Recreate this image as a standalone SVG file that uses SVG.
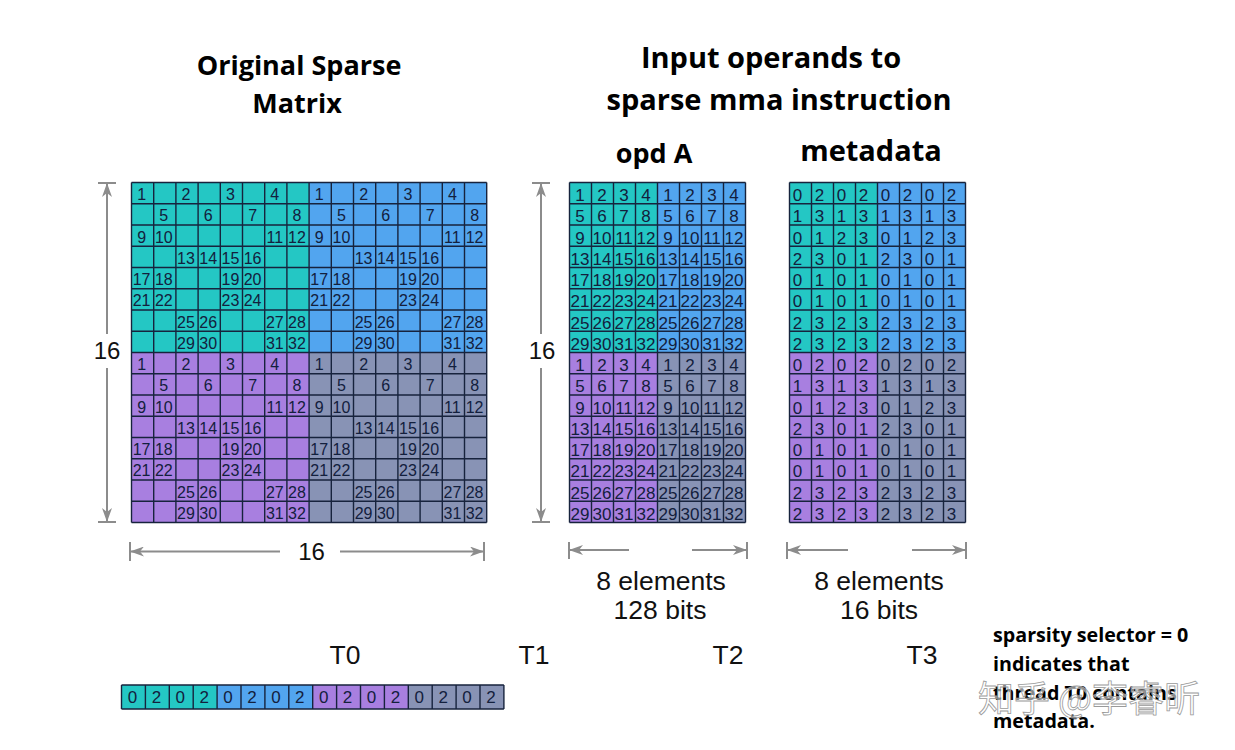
<svg xmlns="http://www.w3.org/2000/svg" width="1235" height="750" viewBox="0 0 1235 750">
<style>
.bg{fill:#ffffff}
.teal{fill:#24c7c4}.blue{fill:#52a5ef}.purp{fill:#a87fe0}.slate{fill:#8893b5}
.g{stroke:#17233d;stroke-width:1.4;fill:none}
.n{font-family:"Liberation Sans",Arial,sans-serif;font-size:16px;fill:#13203d;text-anchor:middle}
.a{font-size:17px}
.dim{stroke:#8c8c8c;stroke-width:2;fill:none}
.tt{font-family:"Open Sans",sans-serif;font-weight:700;font-size:27px;text-anchor:middle;fill:#000}
.t2{font-size:29px}
.lb{font-family:"Liberation Sans",Arial,sans-serif;font-size:26.5px;fill:#111;text-anchor:middle}
.sz{font-size:24px}
.note{font-family:"Open Sans",sans-serif;font-weight:700;font-size:19.7px;fill:#000}
.wm{font-family:"Noto Sans CJK SC",sans-serif;font-size:36px;fill:#ffffff;fill-opacity:0.55;stroke:#9a9a9a;stroke-width:0.8}
</style>
<defs>
<marker id="ah" viewBox="0 0 14 10" refX="13" refY="5" markerWidth="14" markerHeight="10" markerUnits="userSpaceOnUse" orient="auto">
<path d="M0,0 L14,5 L0,10 L4,5 z" fill="#8c8c8c"/>
</marker>
</defs>
<rect class="bg" x="0" y="0" width="1235" height="750"/>

<g id="titles">
<text class="tt" x="299" y="75">Original Sparse</text>
<text class="tt" x="297" y="113">Matrix</text>
<text class="tt t2" x="771" y="68">Input operands to</text>
<text class="tt t2" x="779" y="110">sparse mma instruction</text>
<text class="tt" x="654" y="163">opd A</text>
<text class="tt t2" x="871" y="161">metadata</text>
</g>

<g id="original-matrix">
<rect class="teal" x="131.5" y="182.5" width="177.6" height="170"/>
<rect class="blue" x="309.1" y="182.5" width="177.6" height="170"/>
<rect class="purp" x="131.5" y="352.5" width="177.6" height="170"/>
<rect class="slate" x="309.1" y="352.5" width="177.6" height="170"/>
<path class="g" d="M131.5 182.5V522.5M153.7 182.5V522.5M175.9 182.5V522.5M198.1 182.5V522.5M220.3 182.5V522.5M242.5 182.5V522.5M264.7 182.5V522.5M286.9 182.5V522.5M309.1 182.5V522.5M331.3 182.5V522.5M353.5 182.5V522.5M375.7 182.5V522.5M397.9 182.5V522.5M420.1 182.5V522.5M442.3 182.5V522.5M464.5 182.5V522.5M486.7 182.5V522.5M131.5 182.5H486.7M131.5 203.75H486.7M131.5 225H486.7M131.5 246.25H486.7M131.5 267.5H486.7M131.5 288.75H486.7M131.5 310H486.7M131.5 331.25H486.7M131.5 352.5H486.7M131.5 373.75H486.7M131.5 395H486.7M131.5 416.25H486.7M131.5 437.5H486.7M131.5 458.75H486.7M131.5 480H486.7M131.5 501.25H486.7M131.5 522.5H486.7"/>
<g class="n">
<g>
<text x="141.6" y="200">1</text><text x="186" y="200">2</text><text x="230.4" y="200">3</text><text x="274.8" y="200">4</text>
<text x="163.8" y="221.25">5</text><text x="208.2" y="221.25">6</text><text x="252.6" y="221.25">7</text><text x="297" y="221.25">8</text>
<text x="141.6" y="242.5">9</text><text x="163.8" y="242.5">10</text><text x="274.8" y="242.5">11</text><text x="297" y="242.5">12</text>
<text x="186" y="263.75">13</text><text x="208.2" y="263.75">14</text><text x="230.4" y="263.75">15</text><text x="252.6" y="263.75">16</text>
<text x="141.6" y="285">17</text><text x="163.8" y="285">18</text><text x="230.4" y="285">19</text><text x="252.6" y="285">20</text>
<text x="141.6" y="306.25">21</text><text x="163.8" y="306.25">22</text><text x="230.4" y="306.25">23</text><text x="252.6" y="306.25">24</text>
<text x="186" y="327.5">25</text><text x="208.2" y="327.5">26</text><text x="274.8" y="327.5">27</text><text x="297" y="327.5">28</text>
<text x="186" y="348.75">29</text><text x="208.2" y="348.75">30</text><text x="274.8" y="348.75">31</text><text x="297" y="348.75">32</text>
</g>
<g transform="translate(177.6,0)">
<text x="141.6" y="200">1</text><text x="186" y="200">2</text><text x="230.4" y="200">3</text><text x="274.8" y="200">4</text>
<text x="163.8" y="221.25">5</text><text x="208.2" y="221.25">6</text><text x="252.6" y="221.25">7</text><text x="297" y="221.25">8</text>
<text x="141.6" y="242.5">9</text><text x="163.8" y="242.5">10</text><text x="274.8" y="242.5">11</text><text x="297" y="242.5">12</text>
<text x="186" y="263.75">13</text><text x="208.2" y="263.75">14</text><text x="230.4" y="263.75">15</text><text x="252.6" y="263.75">16</text>
<text x="141.6" y="285">17</text><text x="163.8" y="285">18</text><text x="230.4" y="285">19</text><text x="252.6" y="285">20</text>
<text x="141.6" y="306.25">21</text><text x="163.8" y="306.25">22</text><text x="230.4" y="306.25">23</text><text x="252.6" y="306.25">24</text>
<text x="186" y="327.5">25</text><text x="208.2" y="327.5">26</text><text x="274.8" y="327.5">27</text><text x="297" y="327.5">28</text>
<text x="186" y="348.75">29</text><text x="208.2" y="348.75">30</text><text x="274.8" y="348.75">31</text><text x="297" y="348.75">32</text>
</g>
<g transform="translate(0,170)">
<text x="141.6" y="200">1</text><text x="186" y="200">2</text><text x="230.4" y="200">3</text><text x="274.8" y="200">4</text>
<text x="163.8" y="221.25">5</text><text x="208.2" y="221.25">6</text><text x="252.6" y="221.25">7</text><text x="297" y="221.25">8</text>
<text x="141.6" y="242.5">9</text><text x="163.8" y="242.5">10</text><text x="274.8" y="242.5">11</text><text x="297" y="242.5">12</text>
<text x="186" y="263.75">13</text><text x="208.2" y="263.75">14</text><text x="230.4" y="263.75">15</text><text x="252.6" y="263.75">16</text>
<text x="141.6" y="285">17</text><text x="163.8" y="285">18</text><text x="230.4" y="285">19</text><text x="252.6" y="285">20</text>
<text x="141.6" y="306.25">21</text><text x="163.8" y="306.25">22</text><text x="230.4" y="306.25">23</text><text x="252.6" y="306.25">24</text>
<text x="186" y="327.5">25</text><text x="208.2" y="327.5">26</text><text x="274.8" y="327.5">27</text><text x="297" y="327.5">28</text>
<text x="186" y="348.75">29</text><text x="208.2" y="348.75">30</text><text x="274.8" y="348.75">31</text><text x="297" y="348.75">32</text>
</g>
<g transform="translate(177.6,170)">
<text x="141.6" y="200">1</text><text x="186" y="200">2</text><text x="230.4" y="200">3</text><text x="274.8" y="200">4</text>
<text x="163.8" y="221.25">5</text><text x="208.2" y="221.25">6</text><text x="252.6" y="221.25">7</text><text x="297" y="221.25">8</text>
<text x="141.6" y="242.5">9</text><text x="163.8" y="242.5">10</text><text x="274.8" y="242.5">11</text><text x="297" y="242.5">12</text>
<text x="186" y="263.75">13</text><text x="208.2" y="263.75">14</text><text x="230.4" y="263.75">15</text><text x="252.6" y="263.75">16</text>
<text x="141.6" y="285">17</text><text x="163.8" y="285">18</text><text x="230.4" y="285">19</text><text x="252.6" y="285">20</text>
<text x="141.6" y="306.25">21</text><text x="163.8" y="306.25">22</text><text x="230.4" y="306.25">23</text><text x="252.6" y="306.25">24</text>
<text x="186" y="327.5">25</text><text x="208.2" y="327.5">26</text><text x="274.8" y="327.5">27</text><text x="297" y="327.5">28</text>
<text x="186" y="348.75">29</text><text x="208.2" y="348.75">30</text><text x="274.8" y="348.75">31</text><text x="297" y="348.75">32</text>
</g>
</g>
</g>

<g id="opd-a">
<rect class="teal" x="569.5" y="182.5" width="88" height="170"/>
<rect class="blue" x="657.5" y="182.5" width="88" height="170"/>
<rect class="purp" x="569.5" y="352.5" width="88" height="170"/>
<rect class="slate" x="657.5" y="352.5" width="88" height="170"/>
<path class="g" d="M569.5 182.5V522.5M591.5 182.5V522.5M613.5 182.5V522.5M635.5 182.5V522.5M657.5 182.5V522.5M679.5 182.5V522.5M701.5 182.5V522.5M723.5 182.5V522.5M745.5 182.5V522.5M569.5 182.5H745.5M569.5 203.75H745.5M569.5 225H745.5M569.5 246.25H745.5M569.5 267.5H745.5M569.5 288.75H745.5M569.5 310H745.5M569.5 331.25H745.5M569.5 352.5H745.5M569.5 373.75H745.5M569.5 395H745.5M569.5 416.25H745.5M569.5 437.5H745.5M569.5 458.75H745.5M569.5 480H745.5M569.5 501.25H745.5M569.5 522.5H745.5"/>
<g class="n a">
<g>
<text x="580" y="201">1</text><text x="602" y="201">2</text><text x="624" y="201">3</text><text x="646" y="201">4</text>
<text x="580" y="222.25">5</text><text x="602" y="222.25">6</text><text x="624" y="222.25">7</text><text x="646" y="222.25">8</text>
<text x="580" y="243.5">9</text><text x="602" y="243.5">10</text><text x="624" y="243.5">11</text><text x="646" y="243.5">12</text>
<text x="580" y="264.75">13</text><text x="602" y="264.75">14</text><text x="624" y="264.75">15</text><text x="646" y="264.75">16</text>
<text x="580" y="286">17</text><text x="602" y="286">18</text><text x="624" y="286">19</text><text x="646" y="286">20</text>
<text x="580" y="307.25">21</text><text x="602" y="307.25">22</text><text x="624" y="307.25">23</text><text x="646" y="307.25">24</text>
<text x="580" y="328.5">25</text><text x="602" y="328.5">26</text><text x="624" y="328.5">27</text><text x="646" y="328.5">28</text>
<text x="580" y="349.75">29</text><text x="602" y="349.75">30</text><text x="624" y="349.75">31</text><text x="646" y="349.75">32</text>
</g>
<g transform="translate(88,0)">
<text x="580" y="201">1</text><text x="602" y="201">2</text><text x="624" y="201">3</text><text x="646" y="201">4</text>
<text x="580" y="222.25">5</text><text x="602" y="222.25">6</text><text x="624" y="222.25">7</text><text x="646" y="222.25">8</text>
<text x="580" y="243.5">9</text><text x="602" y="243.5">10</text><text x="624" y="243.5">11</text><text x="646" y="243.5">12</text>
<text x="580" y="264.75">13</text><text x="602" y="264.75">14</text><text x="624" y="264.75">15</text><text x="646" y="264.75">16</text>
<text x="580" y="286">17</text><text x="602" y="286">18</text><text x="624" y="286">19</text><text x="646" y="286">20</text>
<text x="580" y="307.25">21</text><text x="602" y="307.25">22</text><text x="624" y="307.25">23</text><text x="646" y="307.25">24</text>
<text x="580" y="328.5">25</text><text x="602" y="328.5">26</text><text x="624" y="328.5">27</text><text x="646" y="328.5">28</text>
<text x="580" y="349.75">29</text><text x="602" y="349.75">30</text><text x="624" y="349.75">31</text><text x="646" y="349.75">32</text>
</g>
<g transform="translate(0,170)">
<text x="580" y="201">1</text><text x="602" y="201">2</text><text x="624" y="201">3</text><text x="646" y="201">4</text>
<text x="580" y="222.25">5</text><text x="602" y="222.25">6</text><text x="624" y="222.25">7</text><text x="646" y="222.25">8</text>
<text x="580" y="243.5">9</text><text x="602" y="243.5">10</text><text x="624" y="243.5">11</text><text x="646" y="243.5">12</text>
<text x="580" y="264.75">13</text><text x="602" y="264.75">14</text><text x="624" y="264.75">15</text><text x="646" y="264.75">16</text>
<text x="580" y="286">17</text><text x="602" y="286">18</text><text x="624" y="286">19</text><text x="646" y="286">20</text>
<text x="580" y="307.25">21</text><text x="602" y="307.25">22</text><text x="624" y="307.25">23</text><text x="646" y="307.25">24</text>
<text x="580" y="328.5">25</text><text x="602" y="328.5">26</text><text x="624" y="328.5">27</text><text x="646" y="328.5">28</text>
<text x="580" y="349.75">29</text><text x="602" y="349.75">30</text><text x="624" y="349.75">31</text><text x="646" y="349.75">32</text>
</g>
<g transform="translate(88,170)">
<text x="580" y="201">1</text><text x="602" y="201">2</text><text x="624" y="201">3</text><text x="646" y="201">4</text>
<text x="580" y="222.25">5</text><text x="602" y="222.25">6</text><text x="624" y="222.25">7</text><text x="646" y="222.25">8</text>
<text x="580" y="243.5">9</text><text x="602" y="243.5">10</text><text x="624" y="243.5">11</text><text x="646" y="243.5">12</text>
<text x="580" y="264.75">13</text><text x="602" y="264.75">14</text><text x="624" y="264.75">15</text><text x="646" y="264.75">16</text>
<text x="580" y="286">17</text><text x="602" y="286">18</text><text x="624" y="286">19</text><text x="646" y="286">20</text>
<text x="580" y="307.25">21</text><text x="602" y="307.25">22</text><text x="624" y="307.25">23</text><text x="646" y="307.25">24</text>
<text x="580" y="328.5">25</text><text x="602" y="328.5">26</text><text x="624" y="328.5">27</text><text x="646" y="328.5">28</text>
<text x="580" y="349.75">29</text><text x="602" y="349.75">30</text><text x="624" y="349.75">31</text><text x="646" y="349.75">32</text>
</g>
</g>
</g>

<g id="metadata">
<rect class="teal" x="789.5" y="182.5" width="88" height="170"/>
<rect class="blue" x="877.5" y="182.5" width="88" height="170"/>
<rect class="purp" x="789.5" y="352.5" width="88" height="170"/>
<rect class="slate" x="877.5" y="352.5" width="88" height="170"/>
<path class="g" d="M789.5 182.5V522.5M811.5 182.5V522.5M833.5 182.5V522.5M855.5 182.5V522.5M877.5 182.5V522.5M899.5 182.5V522.5M921.5 182.5V522.5M943.5 182.5V522.5M965.5 182.5V522.5M789.5 182.5H965.5M789.5 203.75H965.5M789.5 225H965.5M789.5 246.25H965.5M789.5 267.5H965.5M789.5 288.75H965.5M789.5 310H965.5M789.5 331.25H965.5M789.5 352.5H965.5M789.5 373.75H965.5M789.5 395H965.5M789.5 416.25H965.5M789.5 437.5H965.5M789.5 458.75H965.5M789.5 480H965.5M789.5 501.25H965.5M789.5 522.5H965.5"/>
<g class="n a">
<g>
<text x="797.5" y="201">0</text><text x="819.5" y="201">2</text><text x="841.5" y="201">0</text><text x="863.5" y="201">2</text>
<text x="797.5" y="222.25">1</text><text x="819.5" y="222.25">3</text><text x="841.5" y="222.25">1</text><text x="863.5" y="222.25">3</text>
<text x="797.5" y="243.5">0</text><text x="819.5" y="243.5">1</text><text x="841.5" y="243.5">2</text><text x="863.5" y="243.5">3</text>
<text x="797.5" y="264.75">2</text><text x="819.5" y="264.75">3</text><text x="841.5" y="264.75">0</text><text x="863.5" y="264.75">1</text>
<text x="797.5" y="286">0</text><text x="819.5" y="286">1</text><text x="841.5" y="286">0</text><text x="863.5" y="286">1</text>
<text x="797.5" y="307.25">0</text><text x="819.5" y="307.25">1</text><text x="841.5" y="307.25">0</text><text x="863.5" y="307.25">1</text>
<text x="797.5" y="328.5">2</text><text x="819.5" y="328.5">3</text><text x="841.5" y="328.5">2</text><text x="863.5" y="328.5">3</text>
<text x="797.5" y="349.75">2</text><text x="819.5" y="349.75">3</text><text x="841.5" y="349.75">2</text><text x="863.5" y="349.75">3</text>
</g>
<g transform="translate(88,0)">
<text x="797.5" y="201">0</text><text x="819.5" y="201">2</text><text x="841.5" y="201">0</text><text x="863.5" y="201">2</text>
<text x="797.5" y="222.25">1</text><text x="819.5" y="222.25">3</text><text x="841.5" y="222.25">1</text><text x="863.5" y="222.25">3</text>
<text x="797.5" y="243.5">0</text><text x="819.5" y="243.5">1</text><text x="841.5" y="243.5">2</text><text x="863.5" y="243.5">3</text>
<text x="797.5" y="264.75">2</text><text x="819.5" y="264.75">3</text><text x="841.5" y="264.75">0</text><text x="863.5" y="264.75">1</text>
<text x="797.5" y="286">0</text><text x="819.5" y="286">1</text><text x="841.5" y="286">0</text><text x="863.5" y="286">1</text>
<text x="797.5" y="307.25">0</text><text x="819.5" y="307.25">1</text><text x="841.5" y="307.25">0</text><text x="863.5" y="307.25">1</text>
<text x="797.5" y="328.5">2</text><text x="819.5" y="328.5">3</text><text x="841.5" y="328.5">2</text><text x="863.5" y="328.5">3</text>
<text x="797.5" y="349.75">2</text><text x="819.5" y="349.75">3</text><text x="841.5" y="349.75">2</text><text x="863.5" y="349.75">3</text>
</g>
<g transform="translate(0,170)">
<text x="797.5" y="201">0</text><text x="819.5" y="201">2</text><text x="841.5" y="201">0</text><text x="863.5" y="201">2</text>
<text x="797.5" y="222.25">1</text><text x="819.5" y="222.25">3</text><text x="841.5" y="222.25">1</text><text x="863.5" y="222.25">3</text>
<text x="797.5" y="243.5">0</text><text x="819.5" y="243.5">1</text><text x="841.5" y="243.5">2</text><text x="863.5" y="243.5">3</text>
<text x="797.5" y="264.75">2</text><text x="819.5" y="264.75">3</text><text x="841.5" y="264.75">0</text><text x="863.5" y="264.75">1</text>
<text x="797.5" y="286">0</text><text x="819.5" y="286">1</text><text x="841.5" y="286">0</text><text x="863.5" y="286">1</text>
<text x="797.5" y="307.25">0</text><text x="819.5" y="307.25">1</text><text x="841.5" y="307.25">0</text><text x="863.5" y="307.25">1</text>
<text x="797.5" y="328.5">2</text><text x="819.5" y="328.5">3</text><text x="841.5" y="328.5">2</text><text x="863.5" y="328.5">3</text>
<text x="797.5" y="349.75">2</text><text x="819.5" y="349.75">3</text><text x="841.5" y="349.75">2</text><text x="863.5" y="349.75">3</text>
</g>
<g transform="translate(88,170)">
<text x="797.5" y="201">0</text><text x="819.5" y="201">2</text><text x="841.5" y="201">0</text><text x="863.5" y="201">2</text>
<text x="797.5" y="222.25">1</text><text x="819.5" y="222.25">3</text><text x="841.5" y="222.25">1</text><text x="863.5" y="222.25">3</text>
<text x="797.5" y="243.5">0</text><text x="819.5" y="243.5">1</text><text x="841.5" y="243.5">2</text><text x="863.5" y="243.5">3</text>
<text x="797.5" y="264.75">2</text><text x="819.5" y="264.75">3</text><text x="841.5" y="264.75">0</text><text x="863.5" y="264.75">1</text>
<text x="797.5" y="286">0</text><text x="819.5" y="286">1</text><text x="841.5" y="286">0</text><text x="863.5" y="286">1</text>
<text x="797.5" y="307.25">0</text><text x="819.5" y="307.25">1</text><text x="841.5" y="307.25">0</text><text x="863.5" y="307.25">1</text>
<text x="797.5" y="328.5">2</text><text x="819.5" y="328.5">3</text><text x="841.5" y="328.5">2</text><text x="863.5" y="328.5">3</text>
<text x="797.5" y="349.75">2</text><text x="819.5" y="349.75">3</text><text x="841.5" y="349.75">2</text><text x="863.5" y="349.75">3</text>
</g>
</g>
</g>

<g id="selector-strip">
<rect class="teal" x="121.5" y="685" width="95.6" height="24"/>
<rect class="blue" x="217.1" y="685" width="95.6" height="24"/>
<rect class="purp" x="312.7" y="685" width="95.6" height="24"/>
<rect class="slate" x="408.3" y="685" width="95.6" height="24"/>
<path class="g" d="M121.5 685H503.9M121.5 709H503.9M121.5 685V709M145.4 685V709M169.3 685V709M193.2 685V709M217.1 685V709M241 685V709M264.9 685V709M288.8 685V709M312.7 685V709M336.6 685V709M360.5 685V709M384.4 685V709M408.3 685V709M432.2 685V709M456.1 685V709M480 685V709M503.9 685V709"/>
<g class="n a">
<text x="132.5" y="703">0</text><text x="156.4" y="703">2</text><text x="180.3" y="703">0</text><text x="204.2" y="703">2</text>
<text x="228.1" y="703">0</text><text x="252" y="703">2</text><text x="275.9" y="703">0</text><text x="299.8" y="703">2</text>
<text x="323.7" y="703">0</text><text x="347.6" y="703">2</text><text x="371.5" y="703">0</text><text x="395.4" y="703">2</text>
<text x="419.3" y="703">0</text><text x="443.2" y="703">2</text><text x="467.1" y="703">0</text><text x="491" y="703">2</text>
</g>
</g>

<g id="connectors">
<path class="dim" d="M98 183H116M98 522H116M532 183H550M532 522H550M130 542V561M484 542V561M569 542V559M747 542V559M787 542V559M966 542V559"/>
<path class="dim" marker-end="url(#ah)" d="M107 334V184"/>
<path class="dim" marker-end="url(#ah)" d="M107 368V521"/>
<path class="dim" marker-end="url(#ah)" d="M541 334V184"/>
<path class="dim" marker-end="url(#ah)" d="M541 368V521"/>
<path class="dim" marker-end="url(#ah)" d="M280 551.5H131"/>
<path class="dim" marker-end="url(#ah)" d="M340 551.5H483"/>
<path class="dim" marker-end="url(#ah)" d="M629 550H570"/>
<path class="dim" marker-end="url(#ah)" d="M692 550H746"/>
<path class="dim" marker-end="url(#ah)" d="M848 550H788"/>
<path class="dim" marker-end="url(#ah)" d="M912 550H965"/>
</g>

<g id="labels">
<text class="lb sz" x="107" y="359">16</text>
<text class="lb sz" x="542" y="359">16</text>
<text class="lb sz" x="311.5" y="560">16</text>
<text class="lb" x="661" y="590">8 elements</text>
<text class="lb" x="660" y="619">128 bits</text>
<text class="lb" x="879" y="590">8 elements</text>
<text class="lb" x="879" y="619">16 bits</text>
<text class="lb" x="345" y="664">T0</text>
<text class="lb" x="534" y="664">T1</text>
<text class="lb" x="728" y="664">T2</text>
<text class="lb" x="922" y="664">T3</text>
</g>

<g id="note">
<text class="note" x="993" y="642">sparsity selector = 0</text>
<text class="note" x="993" y="671">indicates that</text>
<text class="note" x="993" y="700">thread T0 contains</text>
<text class="note" x="993" y="728">metadata.</text>
</g>

<g id="watermark">
<text class="wm" x="978" y="712">知乎 @李睿昕</text>
</g>
</svg>
